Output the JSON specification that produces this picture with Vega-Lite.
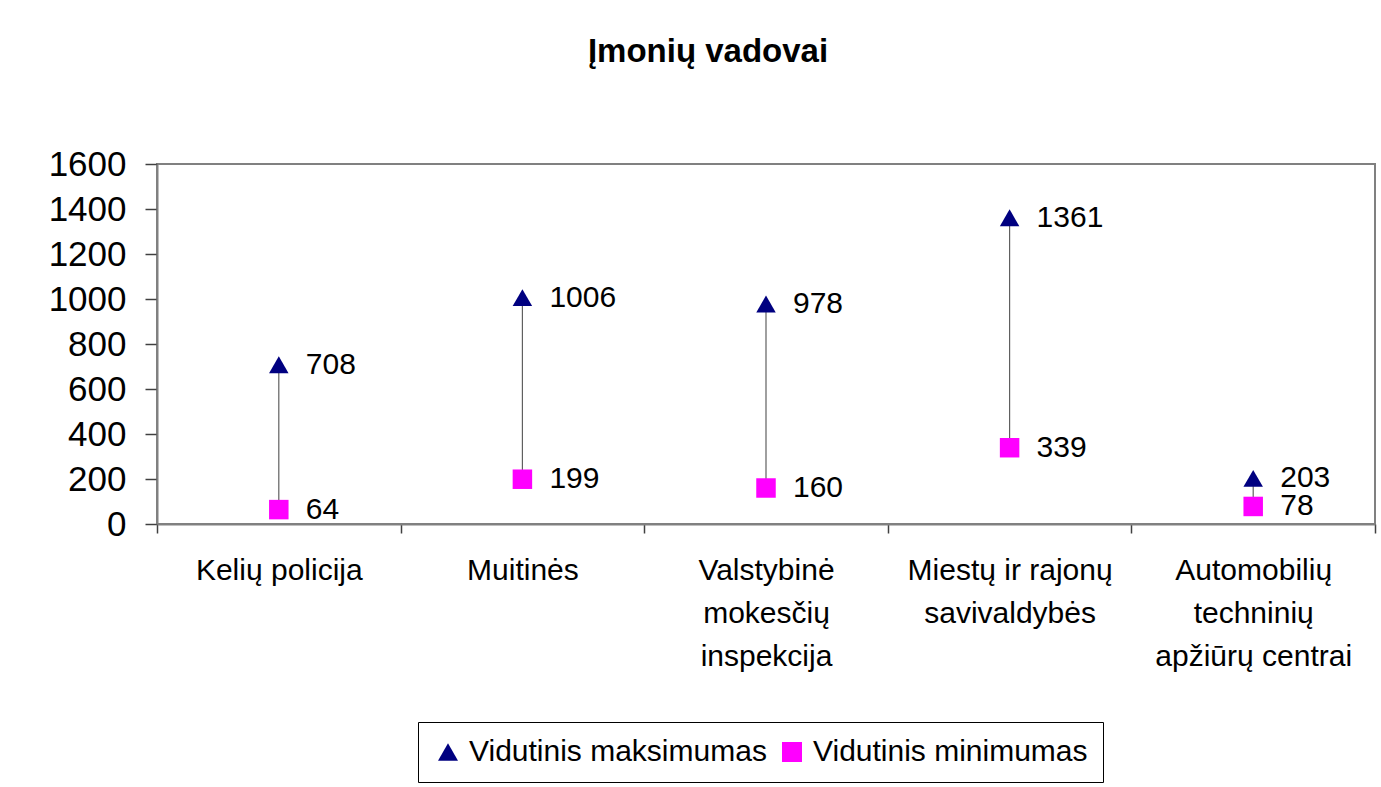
{
  "$schema": "https://vega.github.io/schema/vega-lite/v6.json",
  "width": 1218,
  "height": 360,
  "autosize": {"type": "none"},
  "padding": {"left": 157, "top": 164, "right": 6, "bottom": 263},
  "background": "white",
  "config": {
    "font": "Liberation Sans",
    "view": {"stroke": "#808080", "strokeWidth": 2}
  },
  "title": {
    "text": "Įmonių vadovai",
    "fontSize": 33,
    "fontWeight": "bold",
    "font": "Liberation Sans",
    "color": "black",
    "anchor": "middle",
    "baseline": "alphabetic",
    "offset": 52,
    "dx": -58
  },
  "data": {
    "values": [
      {"cat": "Kelių policija", "series": "Vidutinis maksimumas", "value": 708},
      {"cat": "Kelių policija", "series": "Vidutinis minimumas", "value": 64},
      {"cat": "Muitinės", "series": "Vidutinis maksimumas", "value": 1006},
      {"cat": "Muitinės", "series": "Vidutinis minimumas", "value": 199},
      {"cat": "Valstybinė mokesčių inspekcija", "series": "Vidutinis maksimumas", "value": 978},
      {"cat": "Valstybinė mokesčių inspekcija", "series": "Vidutinis minimumas", "value": 160},
      {"cat": "Miestų ir rajonų savivaldybės", "series": "Vidutinis maksimumas", "value": 1361},
      {"cat": "Miestų ir rajonų savivaldybės", "series": "Vidutinis minimumas", "value": 339},
      {"cat": "Automobilių techninių apžiūrų centrai", "series": "Vidutinis maksimumas", "value": 203},
      {"cat": "Automobilių techninių apžiūrų centrai", "series": "Vidutinis minimumas", "value": 78}
    ]
  },
  "encoding": {
    "x": {
      "field": "cat",
      "type": "nominal",
      "sort": null,
      "scale": {"type": "band", "paddingInner": 0, "paddingOuter": 0},
      "axis": {
        "title": null,
        "labelAngle": 0,
        "labelFontSize": 30,
        "labelColor": "black",
        "labelLineHeight": 43,
        "labelPadding": 22,
        "labelBaseline": "top",
        "labelLimit": 0,
        "tickBand": "extent",
        "tickSize": 9,
        "tickColor": "#404040",
        "tickWidth": 1.5,
        "domainColor": "#808080",
        "domainWidth": 2,
        "labelExpr": "datum.value == 'Valstybinė mokesčių inspekcija' ? ['Valstybinė','mokesčių','inspekcija'] : datum.value == 'Miestų ir rajonų savivaldybės' ? ['Miestų ir rajonų','savivaldybės'] : datum.value == 'Automobilių techninių apžiūrų centrai' ? ['Automobilių','techninių','apžiūrų centrai'] : datum.value"
      }
    }
  },
  "layer": [
    {
      "mark": {"type": "rule", "color": "#606060", "strokeWidth": 1.2},
      "encoding": {
        "y": {"aggregate": "min", "field": "value", "type": "quantitative"},
        "y2": {"aggregate": "max", "field": "value"}
      }
    },
    {
      "mark": {"type": "point", "filled": true, "opacity": 1, "size": 380},
      "encoding": {
        "y": {
          "field": "value",
          "type": "quantitative",
          "scale": {"domain": [0, 1600], "nice": false},
          "axis": {
            "title": null,
            "format": "d",
            "values": [0, 200, 400, 600, 800, 1000, 1200, 1400, 1600],
            "grid": false,
            "labelFontSize": 35,
            "labelColor": "black",
            "labelPadding": 19,
            "tickSize": 12,
            "tickColor": "#404040",
            "tickWidth": 1.5,
            "domainColor": "#808080",
            "domainWidth": 2
          }
        },
        "color": {
          "field": "series",
          "type": "nominal",
          "scale": {"domain": ["Vidutinis maksimumas", "Vidutinis minimumas"], "range": ["#000080", "#FF00FF"]},
          "legend": {
            "title": null,
            "orient": "none",
            "legendX": 261,
            "legendY": 558,
            "direction": "horizontal",
            "labelFontSize": 30,
            "labelColor": "black",
            "labelLimit": 0,
            "labelOffset": 6,
            "symbolSize": 400,
            "symbolOpacity": 1,
            "columnPadding": 10,
            "strokeColor": "black",
            "fillColor": "white",
            "padding": 15
          }
        },
        "shape": {
          "field": "series",
          "type": "nominal",
          "scale": {"domain": ["Vidutinis maksimumas", "Vidutinis minimumas"], "range": ["triangle-up", "square"]}
        }
      }
    },
    {
      "mark": {"type": "text", "align": "left", "baseline": "middle", "dx": 27, "fontSize": 30, "color": "black"},
      "encoding": {
        "y": {"field": "value", "type": "quantitative"},
        "text": {"field": "value", "type": "quantitative"}
      }
    }
  ]
}
